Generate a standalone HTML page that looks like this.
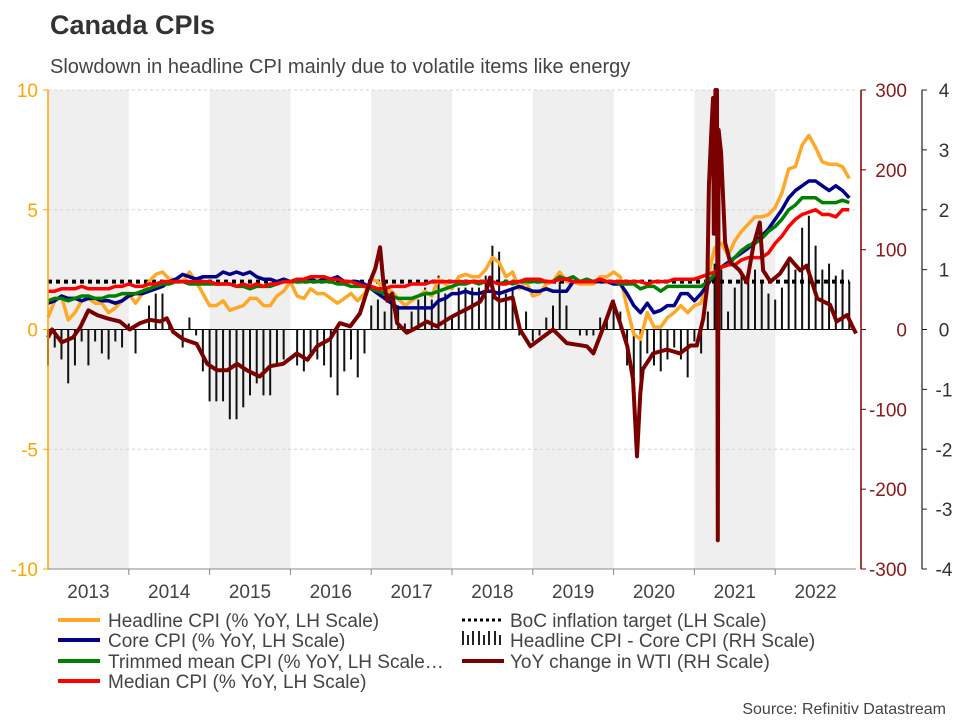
<!DOCTYPE html>
<html><head><meta charset="utf-8"><style>
body{margin:0;background:#fff;font-family:"Liberation Sans",Arial,sans-serif;}
#wrap{position:relative;width:960px;height:720px;overflow:hidden;}
</style></head><body>
<div id="wrap">
<svg id="c" width="960" height="720" xmlns="http://www.w3.org/2000/svg"></svg>
</div>
<script>
const years=[2013,2014,2015,2016,2017,2018,2019,2020,2021,2022];
const leftTicks=[10,5,0,-5,-10];
const midTicks=[300,200,100,0,-100,-200,-300];
const rightTicks=[4,3,2,1,0,-1,-2,-3,-4];
const boCTarget=2;
const headline=[0.5,1.2,1.4,0.4,0.7,1.2,1.3,1.1,1.1,0.7,0.9,1.2,
1.5,1.1,1.5,2.0,2.3,2.4,2.1,2.1,2.0,2.4,2.0,1.5,
1.0,1.0,1.2,0.8,0.9,1.0,1.3,1.3,1.0,1.0,1.4,1.6,
2.0,1.4,1.3,1.7,1.5,1.5,1.3,1.1,1.3,1.5,1.2,1.5,
2.1,2.0,1.6,1.6,1.3,1.0,1.2,1.4,1.6,1.4,2.1,1.9,
1.7,2.2,2.3,2.2,2.2,2.5,3.0,2.8,2.2,2.4,1.7,2.0,
1.4,1.5,1.9,2.0,2.4,2.0,2.0,1.9,1.9,1.9,2.2,2.2,
2.4,2.2,0.9,-0.2,-0.4,0.7,0.1,0.1,0.5,0.7,1.0,0.7,
1.0,1.1,2.2,3.4,3.6,3.1,3.7,4.1,4.4,4.7,4.7,4.8,
5.1,5.7,6.7,6.8,7.7,8.1,7.6,7.0,6.9,6.9,6.8,6.3];
const core=[1.1,1.2,1.4,1.3,1.3,1.2,1.3,1.3,1.2,1.2,1.1,1.2,
1.4,1.5,1.5,1.6,1.7,1.8,2.0,2.1,2.3,2.2,2.1,2.2,
2.2,2.2,2.4,2.3,2.4,2.3,2.4,2.2,2.1,2.1,2.0,2.1,
2.0,2.0,2.0,2.1,2.0,2.1,2.1,2.2,2.0,2.0,2.0,1.9,
1.7,1.5,1.3,1.1,0.9,0.9,0.9,0.9,0.9,0.9,1.2,1.3,
1.5,1.5,1.6,1.5,1.5,1.6,1.6,1.5,1.6,1.7,1.8,1.7,
1.6,1.6,1.7,1.6,1.6,1.6,2.0,2.0,2.0,2.0,2.0,2.0,
1.9,1.9,1.5,1.0,0.7,1.1,0.7,0.8,1.0,1.0,1.5,1.5,
1.2,1.5,1.9,2.3,2.6,2.8,3.0,3.2,3.4,3.7,3.9,4.2,
4.6,5.0,5.5,5.8,6.0,6.2,6.2,6.0,5.8,6.0,5.8,5.5];
const trimmed=[1.2,1.3,1.3,1.2,1.3,1.4,1.4,1.3,1.3,1.4,1.4,1.5,
1.5,1.5,1.6,1.7,1.8,1.9,1.9,2.0,2.0,1.9,1.9,1.9,
1.9,1.9,1.9,1.9,1.8,1.8,1.7,1.8,1.8,1.8,1.9,2.0,
2.0,2.0,2.0,2.0,2.0,2.0,2.0,1.9,1.9,1.8,1.8,1.8,
1.7,1.6,1.5,1.4,1.3,1.3,1.3,1.4,1.5,1.5,1.6,1.7,
1.8,1.9,1.9,2.0,1.9,2.0,2.0,1.9,2.0,1.9,2.0,2.0,
2.0,2.0,2.0,2.0,2.2,2.1,2.2,2.0,2.1,2.0,2.1,2.0,
2.0,1.9,1.9,1.9,1.7,1.8,1.8,1.6,1.8,1.8,1.8,1.8,
1.8,1.8,2.0,2.3,2.6,2.7,3.0,3.3,3.5,3.6,3.8,4.1,
4.3,4.6,5.0,5.2,5.5,5.5,5.5,5.3,5.3,5.3,5.4,5.3];
const median=[1.6,1.6,1.7,1.7,1.7,1.8,1.7,1.7,1.7,1.7,1.8,1.8,
1.9,1.8,1.8,1.9,1.9,2.0,2.0,2.0,2.0,2.0,2.0,2.0,
2.0,1.9,1.9,1.9,1.8,1.9,1.8,1.9,1.8,1.9,1.9,2.0,
2.0,2.1,2.1,2.2,2.2,2.2,2.1,2.1,2.0,2.0,1.9,1.8,
1.8,1.7,1.7,1.8,1.8,1.8,1.9,1.9,1.9,2.0,2.0,2.0,
2.0,2.0,2.0,2.0,2.0,2.0,2.0,1.9,1.9,2.0,2.0,2.1,
2.1,2.1,2.0,2.0,2.1,2.1,2.0,2.0,2.0,2.0,2.1,2.0,
2.0,2.0,2.0,2.0,2.0,1.9,2.0,2.0,2.0,2.1,2.1,2.1,
2.1,2.2,2.3,2.4,2.6,2.7,2.7,2.9,3.0,3.0,3.0,3.2,
3.6,3.9,4.3,4.6,4.8,4.9,5.0,4.8,4.8,4.7,5.0,5.0];
const gapBars=[-0.6,-0.3,-0.5,-0.9,-0.6,-0.2,-0.6,-0.2,-0.4,-0.5,-0.2,-0.3,
0.1,-0.4,0.0,0.4,0.6,0.6,0.1,0.0,-0.3,0.2,-0.1,-0.7,
-1.2,-1.2,-1.2,-1.5,-1.5,-1.3,-1.1,-0.9,-1.1,-1.1,-0.6,-0.5,
0.0,-0.6,-0.7,-0.4,-0.5,-0.6,-0.8,-1.1,-0.7,-0.5,-0.8,-0.4,
0.4,0.5,0.3,0.5,0.4,0.1,0.3,0.5,0.7,0.5,0.9,0.6,
0.2,0.7,0.7,0.7,0.7,0.9,1.4,1.3,0.6,0.7,-0.1,0.3,
-0.2,-0.1,0.2,0.4,0.8,0.4,0.0,-0.1,-0.1,-0.1,0.2,0.2,
0.5,0.3,-0.6,-1.2,-1.1,-0.4,-0.6,-0.7,-0.5,-0.3,-0.5,-0.8,
-0.2,-0.4,0.3,1.1,1.0,0.3,0.7,0.9,1.0,1.0,0.8,0.6,
0.5,0.7,1.2,1.0,1.7,1.9,1.4,1.0,1.1,0.9,1.0,0.8];
const wtiDates=[2013.00,2013.05,2013.17,2013.31,2013.40,2013.50,2013.61,2013.73,2013.89,2014.01,2014.14,2014.26,2014.39,2014.47,2014.55,2014.67,2014.84,2014.97,2015.09,2015.22,2015.34,2015.46,2015.62,2015.75,2015.91,2016.08,2016.21,2016.33,2016.49,2016.61,2016.74,2016.86,2016.96,2016.99,2017.05,2017.11,2017.15,2017.20,2017.26,2017.32,2017.44,2017.52,2017.69,2017.81,2017.98,2018.19,2018.35,2018.43,2018.47,2018.53,2018.59,2018.75,2018.84,2018.97,2019.09,2019.25,2019.42,2019.67,2019.75,2019.92,2019.99,2020.08,2020.17,2020.24,2020.29,2020.33,2020.36,2020.49,2020.66,2020.82,2020.95,2021.03,2021.11,2021.16,2021.18,2021.21,2021.23,2021.24,2021.26,2021.27,2021.28,2021.29,2021.30,2021.33,2021.38,2021.44,2021.56,2021.65,2021.73,2021.81,2021.85,2021.94,2022.06,2022.18,2022.31,2022.39,2022.52,2022.68,2022.76,2022.89,2022.96,2023.00];
const wtiValues=[-10,0,-16,-10,3,24,18,14,10,0,8,12,10,14,-3,-12,-18,-43,-51,-51,-43,-51,-59,-46,-43,-30,-38,-21,-12,8,4,20,52,61,76,103,60,36,45,8,-4,0,10,4,15,26,35,50,65,40,36,40,0,-21,-12,0,-17,-21,-30,15,35,8,-21,-62,-159,-80,-50,-30,-25,-30,-20,-20,14,55,180,250,290,120,300,200,300,-264,250,221,109,85,74,59,105,134,74,60,70,89,74,80,39,31,10,18,3,-5];

const NS='http://www.w3.org/2000/svg';
const svg=document.getElementById('c');
const X0=48,X1=856,Y0=90,Y1=569;
const xs=t=>X0+(t-2013)*(X1-X0)/10;
const xm=m=>xs(2013+m/12);
const yL=v=>Y1-(v+10)*(Y1-Y0)/20;
const yM=v=>Y1-(v+300)*(Y1-Y0)/600;
const yR=v=>Y1-(v+4)*(Y1-Y0)/8;
function mk(tag,attrs,parent){const e=document.createElementNS(NS,tag);for(const k in attrs)e.setAttribute(k,attrs[k]);(parent||svg).appendChild(e);return e;}
function txt(s,attrs,parent){const e=mk('text',attrs,parent);e.textContent=s;return e;}

const t1=txt('Canada CPIs',{x:50,y:34,'font-size':27,'font-weight':'bold',fill:'#333'});


const t2=txt('Slowdown in headline CPI mainly due to volatile items like energy',{x:50,y:73,'font-size':20,fill:'#444'});



const bands=mk('g',{});


years.forEach((yr,i)=>{if(i%2===0){const r=mk('rect',{x:xs(yr),y:Y0,width:xs(yr+1)-xs(yr),height:Y1-Y0,fill:'#efefef'},bands);

}});

const grid=mk('g',{});


[10,5,-5].forEach(v=>{const l=mk('line',{x1:X0,x2:X1,y1:yL(v),y2:yL(v),stroke:'#d4d4d4','stroke-dasharray':'3,3','stroke-width':1},grid);

});

const zl=mk('line',{x1:X0,x2:X1,y1:yR(0),y2:yR(0),stroke:'#000','stroke-width':1});



const bars=mk('g',{});


gapBars.forEach((v,m)=>{const x=xm(m);const y=yR(v),y0=yR(0);
const b=mk('rect',{x:x-1,y:Math.min(y,y0),width:2,height:Math.max(Math.abs(y-y0),0.5),fill:'#111'},bars);

});

const tgt=mk('line',{x1:X0,x2:xm(119),y1:yL(boCTarget),y2:yL(boCTarget),stroke:'#000','stroke-width':4,'stroke-dasharray':'4,4'});



function series(arr,color,name){const d=arr.map((v,m)=>(m?'L':'M')+xm(m).toFixed(1)+','+yL(v).toFixed(1)).join('');
const p=mk('path',{d:d,fill:'none',stroke:color,'stroke-width':3.5,'stroke-linejoin':'round'});

}
series(headline,'#ffa726','headline-cpi-line');
series(core,'#00008b','core-cpi-line');
series(trimmed,'#008000','trimmed-mean-line');
series(median,'#ff0000','median-cpi-line');

const wd=wtiDates.map((t,i)=>(i?'L':'M')+xs(t).toFixed(1)+','+yM(wtiValues[i]).toFixed(1)).join('');
const wp=mk('path',{d:wd,fill:'none',stroke:'#7b0000','stroke-width':4,'stroke-linejoin':'round'});



const ax=mk('g',{});


mk('line',{x1:X0,x2:X0,y1:Y0,y2:Y1,stroke:'#ffa500','stroke-width':1.5},ax);
mk('line',{x1:X0,x2:X1,y1:Y1,y2:Y1,stroke:'#888','stroke-width':1},ax);
leftTicks.forEach(v=>{mk('line',{x1:X0-5,x2:X0,y1:yL(v),y2:yL(v),stroke:'#ffa500'},ax);
const t=txt(String(v),{x:X0-10,y:yL(v)+7,'font-size':19,fill:'#ffa500','text-anchor':'end'},ax);

});
const XM=861;
mk('line',{x1:XM,x2:XM,y1:Y0,y2:Y1,stroke:'#7b0000','stroke-width':1.5},ax);
midTicks.forEach(v=>{mk('line',{x1:XM,x2:XM+5,y1:yM(v),y2:yM(v),stroke:'#7b0000'},ax);
const t=txt(String(v),{x:XM+46,y:yM(v)+7,'font-size':19,fill:'#8b1a1a','text-anchor':'end'},ax);

});
const XR=922;
mk('line',{x1:XR,x2:XR,y1:Y0,y2:Y1,stroke:'#222','stroke-width':1.2},ax);
rightTicks.forEach(v=>{mk('line',{x1:XR,x2:XR+5,y1:yR(v),y2:yR(v),stroke:'#222'},ax);
const t=txt(String(v),{x:XR+22,y:yR(v)+7,'font-size':19,fill:'#333','text-anchor':'middle'},ax);

});
years.forEach(yr=>{if(yr>2013)mk('line',{x1:xs(yr),x2:xs(yr),y1:Y1,y2:Y1+6,stroke:'#888'},ax);
const t=txt(String(yr),{x:xs(yr+0.5),y:598,'font-size':19,fill:'#444','text-anchor':'middle'},ax);

});

const lg=mk('g',{});


const leg=[['Headline CPI (% YoY, LH Scale)','#ffa726',58,620,'line'],['Core CPI (% YoY, LH Scale)','#00008b',58,640,'line'],['Trimmed mean CPI (% YoY, LH Scale…','#008000',58,661,'line'],['Median CPI (% YoY, LH Scale)','#ff0000',58,681,'line'],['BoC inflation target (LH Scale)','#000',462,620,'dot'],['Headline CPI - Core CPI (RH Scale)','#000',462,640,'bar'],['YoY change in WTI (RH Scale)','#7b0000',462,661,'line']];
leg.forEach(e=>{const g=mk('g',{},lg);


if(e[4]==='line')mk('line',{x1:e[2],x2:e[2]+42,y1:e[3],y2:e[3],stroke:e[1],'stroke-width':4},g);
else if(e[4]==='dot')mk('line',{x1:e[2],x2:e[2]+42,y1:e[3],y2:e[3],stroke:'#000','stroke-width':3,'stroke-dasharray':'3,3'},g);
else{[0,5,10,16,21,26,32,37].forEach((o,k)=>mk('rect',{x:e[2]+o,y:e[3]-(k%3===1?5:9),width:2,height:(k%3===1?5:9)+5,fill:'#222'},g));}
txt(e[0],{x:e[2]+(e[2]<100?50:48),y:e[3]+7,'font-size':19,fill:'#444'},g);});

const src=txt('Source: Refinitiv Datastream',{x:946,y:714,'font-size':16,fill:'#444','text-anchor':'end'});


</script>
</body></html>
